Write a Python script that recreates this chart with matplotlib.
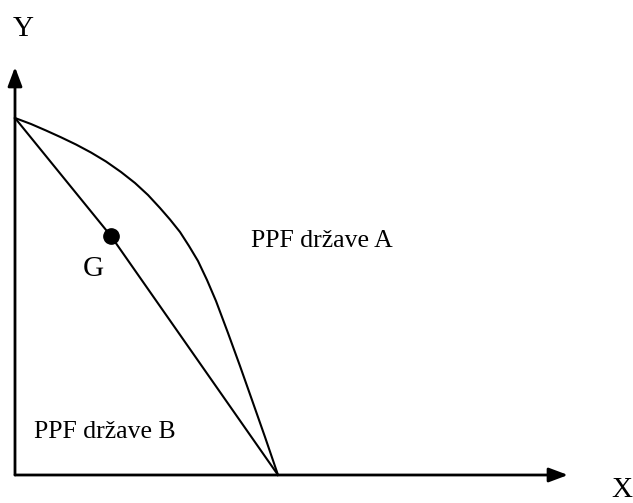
import matplotlib.pyplot as plt

# values in pixel-like units, origin at the corner of the axes
ppf_a_x = [0, 16, 31, 46, 61, 76, 91, 106, 120, 133, 145, 155, 165, 174, 183, 192,
           201, 213, 225, 237, 250, 263]
ppf_a_y = [357, 351, 344.5, 337.7, 330.5, 322.5, 313.5, 303, 292, 280, 267, 255.5, 243,
           229, 214, 195, 174, 142, 109, 75, 38, 0]

ppf_b_x = [0, 95.7, 263]
ppf_b_y = [357, 239.3, 0]

point_g = (95.7, 239.3)

plt.rcParams['font.family'] = ['Liberation Serif', 'DejaVu Serif']

fig = plt.figure(figsize=(6.33, 5.03), dpi=100)
ax = fig.add_axes([0, 0, 1, 1])
ax.set_xlim(-15, 618)
ax.set_ylim(-28, 475)
ax.axis('off')

# axes with arrow heads
arrow = dict(arrowstyle='-|>,head_length=1.6,head_width=0.6', mutation_scale=7.2,
             color='black', lw=2, shrinkA=0, shrinkB=0)
ax.annotate('', xy=(553, 0), xytext=(0, 0), arrowprops=arrow)
ax.annotate('', xy=(0, 408), xytext=(0, 0), arrowprops=arrow)

ax.plot(ppf_a_x, ppf_a_y, color='black', lw=1.5, solid_joinstyle='round')
ax.plot(ppf_b_x, ppf_b_y, color='black', lw=1.5)
ax.plot(*point_g, 'o', color='black', markersize=11)

ax.text(8, 439, 'Y', fontsize=21, ha='center', va='baseline')
ax.text(607, -22, 'X', fontsize=21, ha='center', va='baseline')
ax.text(78, 199, 'G', fontsize=21, ha='center', va='baseline')
ax.text(236, 228, 'PPF države A', fontsize=18.5, ha='left', va='baseline')
ax.text(19, 37, 'PPF države B', fontsize=18.5, ha='left', va='baseline')

fig.savefig('out.png', dpi=100)
